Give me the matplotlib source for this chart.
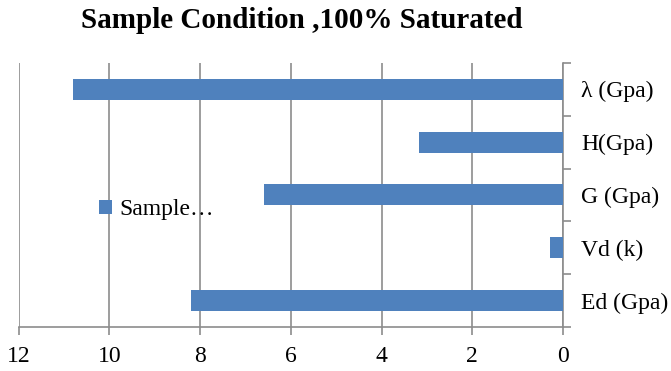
import numpy as np
import matplotlib.pyplot as plt

# datos de la muestra saturada
propiedades = ['λ (Gpa)', 'H(Gpa)', 'G (Gpa)', 'Vd (k)', 'Ed (Gpa)']
valores = [10.8, 3.18, 6.58, 0.29, 8.2]
ticks_x = [0, 2, 4, 6, 8, 10, 12]

plt.rcParams['font.family'] = ['Liberation Serif', 'DejaVu Serif']

fig = plt.figure(figsize=(6.71, 3.71), dpi=100)
ax = fig.add_axes([0.0276, 0.1186, 0.8115, 0.712])

y = np.arange(len(propiedades))
ax.barh(y, valores, height=0.4, color='#4F81BD', label='Sample…', zorder=3)

ax.set_xlim(12, 0)
ax.set_ylim(len(propiedades) - 0.5, -0.5)
ax.set_xticks(ticks_x)
ax.set_xticklabels([str(t) for t in ticks_x], fontsize=17)
ax.grid(axis='x', color='#8c8c8c', linewidth=1.2, zorder=0)

# etiquetas a la derecha, marcas entre categorias
ax.yaxis.tick_right()
ax.set_yticks(y)
ax.set_yticklabels(propiedades, fontsize=17)
ax.set_yticks(np.arange(-0.5, len(propiedades)), minor=True)
ax.tick_params(axis='y', which='major', length=0, pad=13)
ax.tick_params(axis='y', which='minor', length=6, color='#8c8c8c', width=1.2)
ax.tick_params(axis='x', length=6, color='#8c8c8c', width=1.2, pad=8)

for s in ['top', 'left']:
    ax.spines[s].set_visible(False)
for s in ['right', 'bottom']:
    ax.spines[s].set_color('#8c8c8c')
    ax.spines[s].set_linewidth(1.2)

fig.text(0.45, 0.944, 'Sample Condition ,100% Saturated', fontsize=21,
         fontweight='bold', ha='center', va='center')

ax.legend(loc='center left', bbox_to_anchor=(0.147, 0.443), frameon=False,
          fontsize=17, handlelength=0.55, handleheight=0.55, handletextpad=0.35,
          borderaxespad=0, borderpad=0)

plt.savefig('out.png', dpi=100)
